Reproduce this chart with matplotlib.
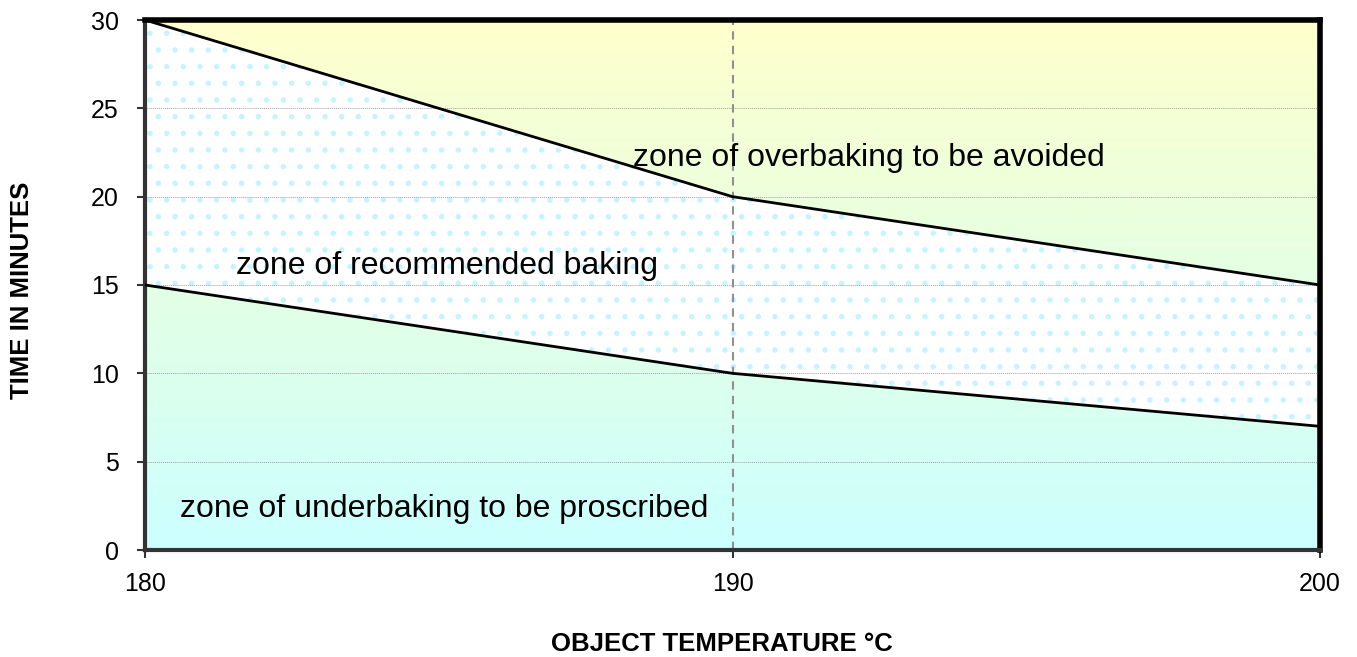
import numpy as np
import matplotlib.pyplot as plt
from matplotlib.colors import LinearSegmentedColormap

plt.rcParams['font.family'] = ['Liberation Sans', 'DejaVu Sans']
plt.rcParams['hatch.linewidth'] = 1.5

# data
temps = [180, 190, 200]
upper_limit = [30, 20, 15]   # overbaking above this
lower_limit = [15, 10, 7]    # underbaking below this
x_ticks = [180, 190, 200]
y_ticks = [0, 5, 10, 15, 20, 25, 30]

fig = plt.figure(figsize=(13.57, 6.57), dpi=100)
ax = fig.add_axes([145 / 1357, 1 - 550 / 657, 1175 / 1357, 530 / 657])

# background gradient: yellow at top -> green -> cyan at bottom
cmap = LinearSegmentedColormap.from_list('bake', ['#ccffff', '#e4ffe4', '#ffffcc'])
grad = np.linspace(0, 1, 256).reshape(-1, 1)
ax.imshow(grad, cmap=cmap, aspect='auto', origin='lower',
          extent=[180, 200, 0, 30], zorder=0)

# recommended zone: white with small cyan pattern
ax.fill_between(temps, lower_limit, upper_limit, facecolor='white',
                edgecolor='#c4f5ff', hatch='.', linewidth=0, zorder=1)

for yv in y_ticks[1:-1]:
    ax.axhline(yv, color='#a0a0a0', lw=0.7, ls=(0, (1, 1)), zorder=2)
ax.axvline(190, color='#909090', lw=1.5, ls=(0, (4, 3)), zorder=2)

ax.plot(temps, upper_limit, color='black', lw=2, zorder=3)
ax.plot(temps, lower_limit, color='black', lw=2, zorder=3)

ax.text(188.3, 22.2, 'zone of overbaking to be avoided', fontsize=23, va='center', zorder=4)
ax.text(181.55, 16.1, 'zone of recommended baking', fontsize=23, va='center', zorder=4)
ax.text(180.6, 2.3, 'zone of underbaking to be proscribed', fontsize=23, va='center', zorder=4)

ax.set_xlim(180, 200)
ax.set_ylim(0, 30)
ax.set_xticks(x_ticks)
ax.set_yticks(y_ticks)
ax.tick_params(axis='both', labelsize=18, direction='out', length=6, width=1.5, color='#333333')
ax.tick_params(axis='x', pad=10)
ax.tick_params(axis='y', pad=13)

for side in ['left', 'bottom']:
    ax.spines[side].set_linewidth(3)
    ax.spines[side].set_color('#333333')
for side in ['top', 'right']:
    ax.spines[side].set_linewidth(4)
    ax.spines[side].set_color('black')

fig.text(22 / 1357, 1 - 290 / 657, 'TIME IN MINUTES', rotation=90, fontsize=18.5,
         fontweight='bold', ha='center', va='center')
fig.text(722 / 1357, 1 - 644 / 657, 'OBJECT TEMPERATURE °C', fontsize=18.5,
         fontweight='bold', ha='center', va='center')

fig.savefig('out.png', dpi=100)
